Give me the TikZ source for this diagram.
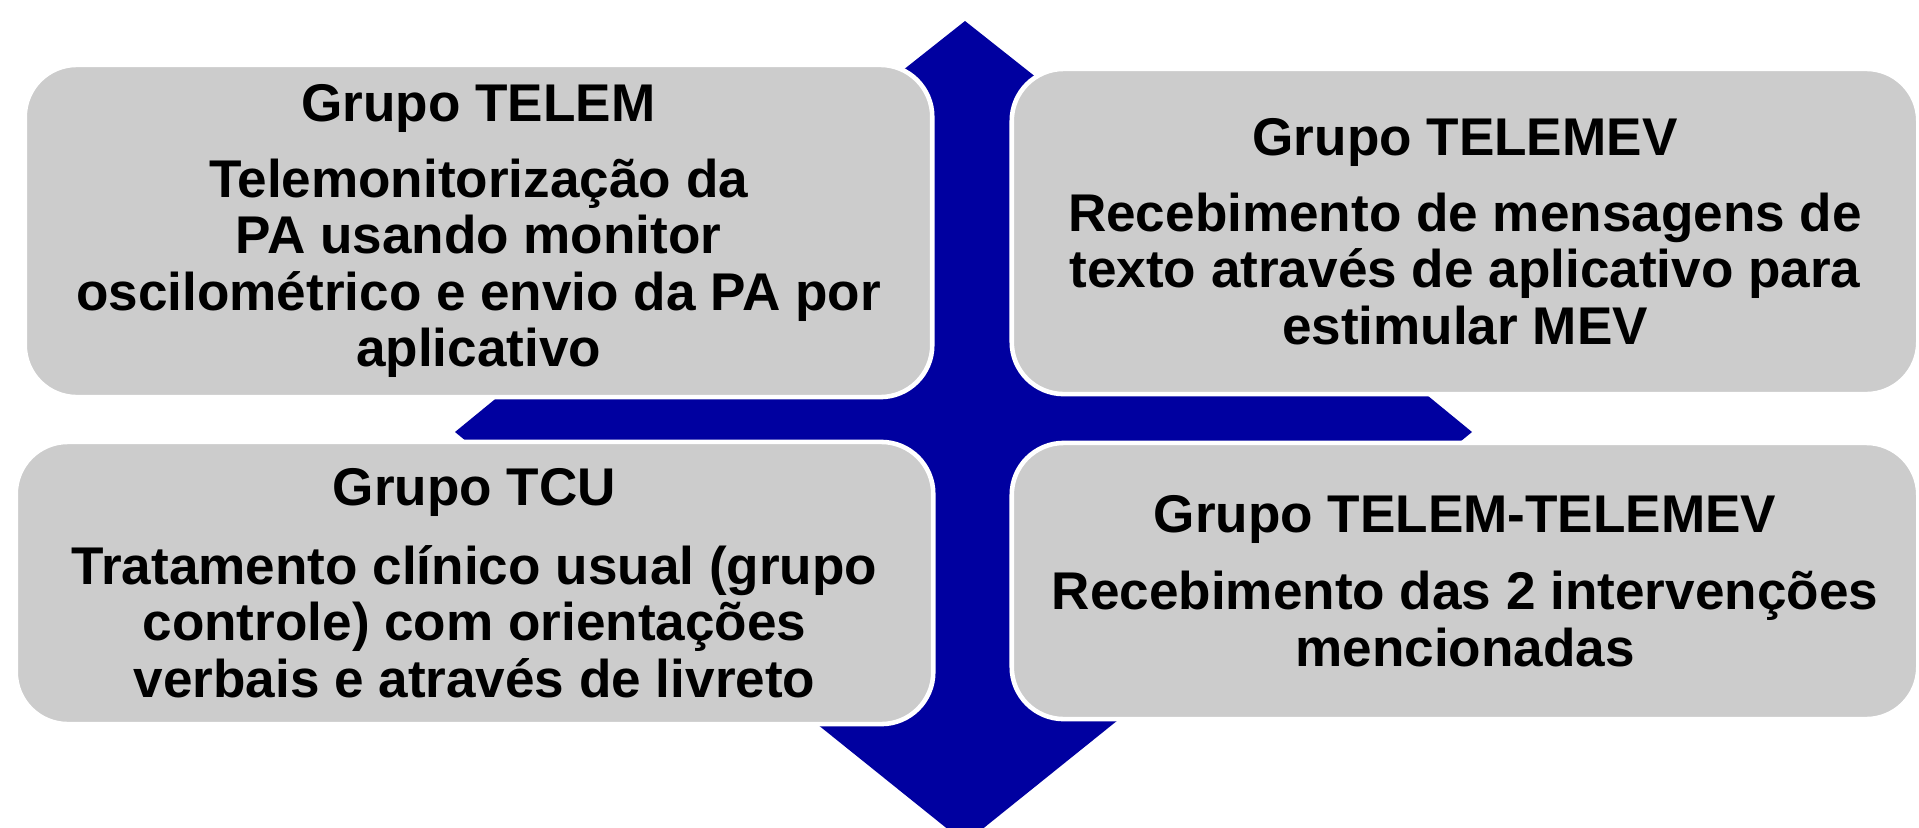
\documentclass[tikz,border=0pt]{standalone}
\usepackage{fontspec}
\setmainfont{Liberation Sans}
\definecolor{arrowblue}{RGB}{0,0,160}
\definecolor{boxgray}{RGB}{204,204,204}
\begin{document}
\begin{tikzpicture}[x=0.01cm,y=-0.01cm,
  panel/.style={fill=boxgray, draw=white, line width=1.3pt, rounded corners=0.52cm,
    align=center, font=\fontsize{15.1}{16}\selectfont\bfseries, text=black, inner sep=0pt}]
\useasboundingbox (0,0) rectangle (1919,827);
% four-way arrow
\fill[arrowblue] (965,21) -- (1109,135) -- (1070,135) -- (1070,360) -- (1350,360) -- (1350,332)
  -- (1472,432) -- (1350,532) -- (1350,504) -- (1070,504) -- (1070,716) -- (1123,716)
  -- (965,843) -- (807,716) -- (860,716) -- (860,504) -- (577,504) -- (577,532)
  -- (455,432) -- (577,332) -- (577,360) -- (860,360) -- (860,135) -- (821,135) -- cycle;
% panels
\node[panel, minimum width=9.07cm, minimum height=3.32cm] (telem) at (478.5,231)
  {Grupo TELEM\\[5.6pt]Telemonitorização da\\PA usando monitor\\oscilométrico e envio da PA por\\aplicativo};
\node[panel, minimum width=9.06cm, minimum height=3.25cm] (telemev) at (1465,231.5)
  {Grupo TELEMEV\\[5.6pt]Recebimento de mensagens de\\texto através de aplicativo para\\estimular MEV};
\node[panel, minimum width=9.17cm, minimum height=2.82cm] (tcu) at (474.5,583)
  {Grupo TCU\\[6.5pt]Tratamento clínico usual (grupo\\controle) com orientações\\verbais e através de livreto};
\node[panel, minimum width=9.06cm, minimum height=2.76cm] (both) at (1465,581)
  {Grupo TELEM-TELEMEV\\[6pt]Recebimento das 2 intervenções\\mencionadas};
\end{tikzpicture}
\end{document}
